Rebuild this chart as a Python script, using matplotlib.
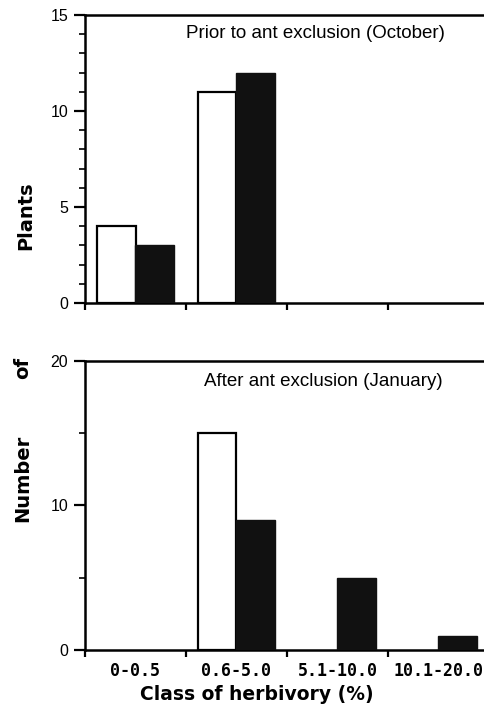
import matplotlib
matplotlib.use("Agg")
import matplotlib.pyplot as plt
import numpy as np
from matplotlib.ticker import MultipleLocator

categories = ["0-0.5", "0.6-5.0", "5.1-10.0", "10.1-20.0"]
oct_white = [4, 11, 0, 0]
oct_black = [3, 12, 0, 0]
jan_white = [0, 15, 0, 0]
jan_black = [0, 9, 5, 1]
title_top = "Prior to ant exclusion (October)"
title_bot = "After ant exclusion (January)"

plt.rcParams['font.family'] = ['Liberation Sans', 'DejaVu Sans']

W, H = 485, 717
fig = plt.figure(figsize=(W/100, H/100), dpi=100)

left = 85/W
width = 404/W
ax1 = fig.add_axes([left, 1-303/H, width, (303-15)/H])
ax2 = fig.add_axes([left, 1-650/H, width, (650-360.7)/H])

x = np.arange(len(categories)) + 0.5
bw = 0.38

def draw(ax, white, black, ymax, minor, major, title, tx, ty):
    for i, (w, b) in enumerate(zip(white, black)):
        if w > 0:
            ax.bar(x[i]-bw/2, w, width=bw, color='white', edgecolor='black', linewidth=1.6, zorder=3)
        if b > 0:
            ax.bar(x[i]+bw/2, b, width=bw, color='#111111', edgecolor='#111111', linewidth=1.0, zorder=3)
    ax.set_xlim(0, 4)
    ax.set_ylim(0, ymax)
    ax.set_xticks([0, 1, 2, 3])
    ax.set_xticklabels([])
    ax.yaxis.set_major_locator(MultipleLocator(major))
    ax.yaxis.set_minor_locator(MultipleLocator(minor))
    for s in ['top', 'bottom', 'left', 'right']:
        ax.spines[s].set_linewidth(1.8)
    ax.tick_params(axis='both', which='major', direction='out', length=8, width=1.6, labelsize=11.5, pad=4)
    ax.tick_params(axis='x', which='major', length=5)
    ax.tick_params(axis='y', which='minor', direction='out', length=4, width=1.2)
    fig.text(tx/W, 1-ty/H, title, ha='center', va='center', fontsize=13.5)

draw(ax1, oct_white, oct_black, 15, 1, 5, title_top, 315, 34)
draw(ax2, jan_white, jan_black, 20, 5, 10, title_bot, 323, 381)

for i, c in enumerate(categories):
    ax2.text(x[i], -0.04, c, transform=ax2.get_xaxis_transform(), ha='center', va='top',
             fontsize=12, fontweight='bold', family='DejaVu Sans Mono')

fig.text(257/W, 1-695/H, "Class of herbivory (%)", ha='center', va='center', fontsize=13.5,
         fontweight='bold', family='DejaVu Sans')
fig.text(26/W, 1-216/H, "Plants", ha='center', va='center', rotation=90, fontsize=14,
         fontweight='bold', family='DejaVu Sans')
fig.text(23/W, 1-478/H, "Number", ha='center', va='center', rotation=90, fontsize=14,
         fontweight='bold', family='DejaVu Sans')
fig.text(23/W, 1-368/H, "of", ha='center', va='center', rotation=90, fontsize=14,
         fontweight='bold', family='DejaVu Sans')

fig.savefig("out.png", dpi=100)
